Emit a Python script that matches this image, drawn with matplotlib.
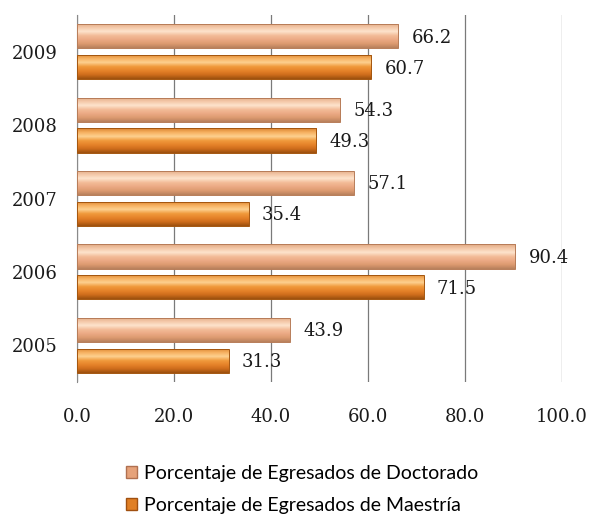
import numpy as np
import matplotlib
matplotlib.use('Agg')
import matplotlib.pyplot as plt
from matplotlib.colors import LinearSegmentedColormap
from matplotlib.patches import Patch

# data
years = ['2005', '2006', '2007', '2008', '2009']
doctorado = [43.9, 90.4, 57.1, 54.3, 66.2]
maestria = [31.3, 71.5, 35.4, 49.3, 60.7]
series_names = ['Porcentaje de Egresados de Doctorado', 'Porcentaje de Egresados de Maestría']
xticks = [0, 20, 40, 60, 80, 100]

# colour ramps (bottom -> top of each bar) to fake the cylinder look
doc_cmap = LinearSegmentedColormap.from_list('doc', ['#b8805c', '#dc9a70', '#eba984', '#f3bc98', '#fde3cc', '#f4c8a8', '#e0a983'])
mae_cmap = LinearSegmentedColormap.from_list('mae', ['#9c500e', '#cf6d1c', '#e6832a', '#f09a3c', '#fdd08f', '#f7b161', '#d9822e'])

fig = plt.figure(figsize=(5.9, 5.21), dpi=100)
ax = fig.add_axes([77 / 590, 1 - 382 / 521, 485 / 590, 367 / 521])

y = np.arange(len(years))
h = 0.33
off = 0.21

def gradient_bars(ys, vals, cmap, edge):
    bars = ax.barh(ys, vals, height=h, color=cmap(0.5), edgecolor='none', zorder=2)
    grad = np.linspace(0, 1, 64).reshape(-1, 1)
    for b in bars:
        x0, y0 = b.get_x(), b.get_y()
        im = ax.imshow(grad, cmap=cmap, origin='lower', aspect='auto',
                       extent=(x0, x0 + b.get_width(), y0, y0 + b.get_height()), zorder=3)
        im.set_clip_path(b)
    # thin outline on top of the gradient
    ax.barh(ys, vals, height=h, facecolor='none', edgecolor=edge, linewidth=0.7, zorder=3.5)
    return bars

gradient_bars(y + off, doctorado, doc_cmap, '#b77c58')
gradient_bars(y - off, maestria, mae_cmap, '#a4560f')

serif = 'DejaVu Serif'
for yi, v in zip(y + off, doctorado):
    ax.annotate(f'{v:.1f}', (v, yi), xytext=(9.5, -1), textcoords='offset points',
                va='center', ha='left', zorder=4, family=serif, size=13, color='#1a1a1a')
for yi, v in zip(y - off, maestria):
    ax.annotate(f'{v:.1f}', (v, yi), xytext=(9.5, -1), textcoords='offset points',
                va='center', ha='left', zorder=4, family=serif, size=13, color='#1a1a1a')

ax.set_xlim(0, 100)
ax.set_ylim(-0.5, 4.5)
ax.set_xticks(xticks)
ax.set_xticklabels([f'{t:.1f}' for t in xticks], fontfamily=serif, fontsize=13, color='#1a1a1a')
ax.set_yticks(y)
ax.set_yticklabels(years, fontfamily=serif, fontsize=13, color='#1a1a1a')
ax.tick_params(axis='x', length=0, pad=19)
ax.tick_params(axis='y', length=0, pad=14)
ax.xaxis.grid(True, color='#7a7a7a', linewidth=0.9, zorder=0)
ax.set_axisbelow(True)
for s in ['top', 'right', 'bottom']:
    ax.spines[s].set_visible(False)
ax.spines['left'].set_color('#8a8a8a')

handles = [Patch(facecolor='#e6a27a', edgecolor='#b07050'),
           Patch(facecolor='#e07f25', edgecolor='#a05010')]
fig.legend(handles, series_names, loc='upper center', bbox_to_anchor=(0.512, 0.127),
           ncol=1, frameon=False, prop={'family': 'Lato', 'size': 14},
           handlelength=0.55, handleheight=0.55, handletextpad=0.35, labelspacing=0.8,
           borderpad=0)

fig.savefig('out.png', dpi=100)
